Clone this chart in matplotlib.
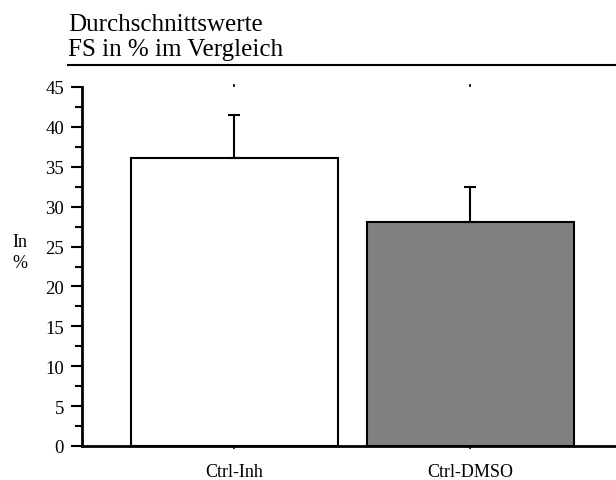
import matplotlib
matplotlib.use("Agg")
import matplotlib.pyplot as plt
from matplotlib.lines import Line2D
import numpy as np

categories = ["Ctrl-Inh", "Ctrl-DMSO"]
means = [36.1, 28.1]
errors = [5.4, 4.4]
bar_colors = ["#ffffff", "#808080"]
yticks = [0, 5, 10, 15, 20, 25, 30, 35, 40, 45]

plt.rcParams["font.family"] = ["Liberation Serif", "DejaVu Serif"]

fig = plt.figure(figsize=(6.16, 4.81), dpi=100)
ax = fig.add_axes([82 / 616, 1 - 447 / 481, 1 - 82 / 616, (447 - 88) / 481])

x = np.arange(len(categories))
ax.bar(x, means, width=0.877, color=bar_colors, edgecolor="black", linewidth=1.5,
       yerr=[[0] * len(errors), errors], error_kw=dict(ecolor="black", elinewidth=1.5,
                                                      capsize=4, capthick=1.5),
       zorder=2)

ax.set_xlim(-0.646, 1.617)
ax.set_ylim(0, 45)
ax.set_xticks(x)
ax.set_xticklabels(categories, fontsize=13)
ax.set_yticks(yticks)
ax.set_yticklabels([str(v) for v in yticks], fontsize=13.5)
ax.set_yticks(np.arange(2.5, 45, 5), minor=True)

for s in ["top", "right"]:
    ax.spines[s].set_visible(False)
ax.spines["left"].set_linewidth(2)
ax.spines["bottom"].set_linewidth(2)

ax.tick_params(axis="y", which="major", length=8, width=1.5, direction="out", pad=5)
ax.tick_params(axis="y", which="minor", length=5, width=1.5, direction="out")
ax.tick_params(axis="x", which="major", length=2, width=1.2, direction="out",
               top=True, pad=10)

fig.text(20 / 616, 1 - 253 / 481, "In\n%", fontsize=13, ha="center", va="center",
         linespacing=1.3)

fig.text(68 / 616, 1 - 56 / 481, "Durchschnittswerte\nFS in % im Vergleich",
         fontsize=18, ha="left", va="baseline", linespacing=1.15)
fig.add_artist(Line2D([68 / 616, 1.0], [1 - 66 / 481, 1 - 66 / 481],
                      transform=fig.transFigure, color="black", linewidth=1.5))

fig.savefig("out.png", dpi=100)
